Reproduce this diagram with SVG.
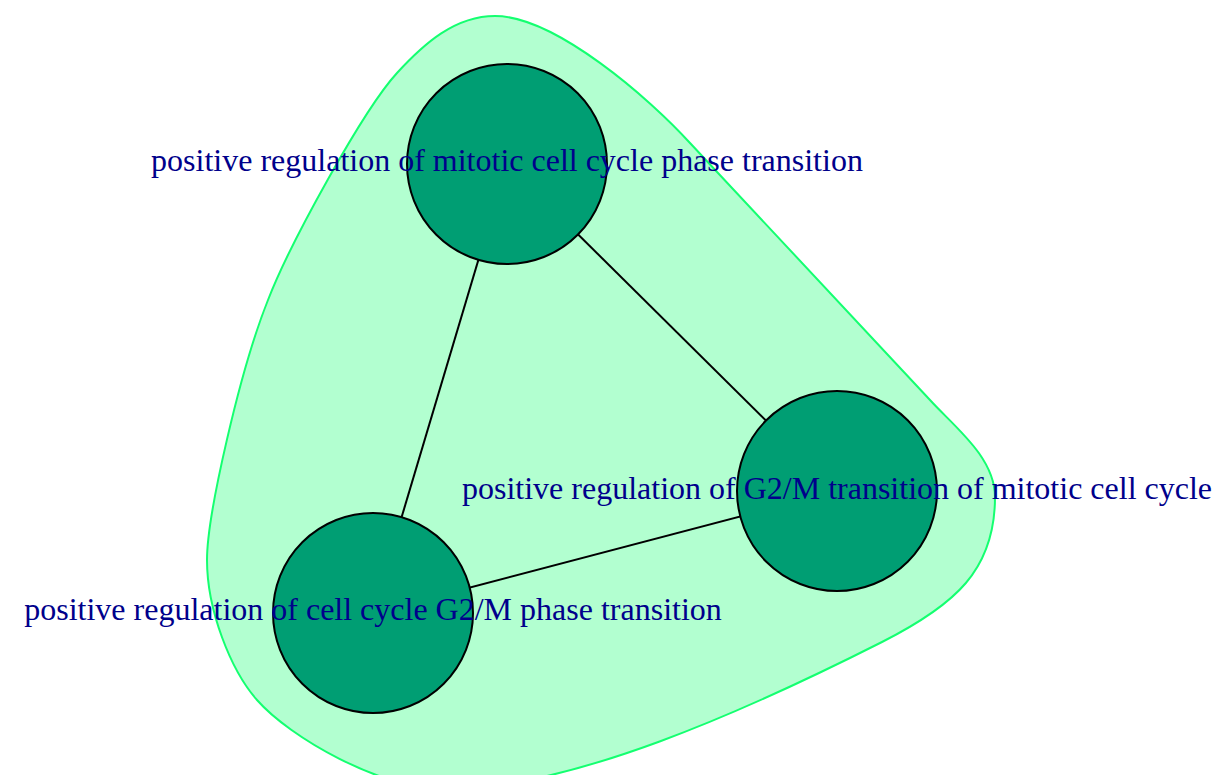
<svg xmlns="http://www.w3.org/2000/svg" width="1224" height="775" viewBox="0 0 1224 775">
<style>
.blob{fill:#B2FFD0;stroke:#14FF70;stroke-width:2}
.edge{stroke:#000;stroke-width:2;fill:none}
.node{fill:#009E73;stroke:#000;stroke-width:2}
.lbl{font-family:"Liberation Serif","Times New Roman",serif;font-size:32px;fill:#00008B;text-anchor:middle}
</style>
<g id="cluster">
<path class="blob" d="M495,16 C555,16 649.8,98.6 690,143 L930,400 C953.5,426 995,457 995,497 C995,570 955,605 882,642 C748.5,709.5 570,790 445,789 C380,789 290,737.5 257,700 C230.6,670 207,610 207,560 C207,515 240,370 268,300 C289.6,244.2 363,110 397,73 C424.2,43.4 455,16 495,16 Z"/>
</g>
<g id="edges">
<line class="edge" x1="507" y1="164" x2="837" y2="491"/>
<line class="edge" x1="507" y1="164" x2="373" y2="613"/>
<line class="edge" x1="837" y1="491" x2="373" y2="613"/>
</g>
<g id="node1"><circle class="node" cx="507" cy="164" r="100"/></g>
<g id="node2"><circle class="node" cx="837" cy="491" r="100"/></g>
<g id="node3"><circle class="node" cx="373" cy="613" r="100"/></g>
<g id="labels">
<text class="lbl" x="507" y="171">positive regulation of mitotic cell cycle phase transition</text>
<text class="lbl" x="837" y="499">positive regulation of G2/M transition of mitotic cell cycle</text>
<text class="lbl" x="373" y="620">positive regulation of cell cycle G2/M phase transition</text>
</g>
</svg>
